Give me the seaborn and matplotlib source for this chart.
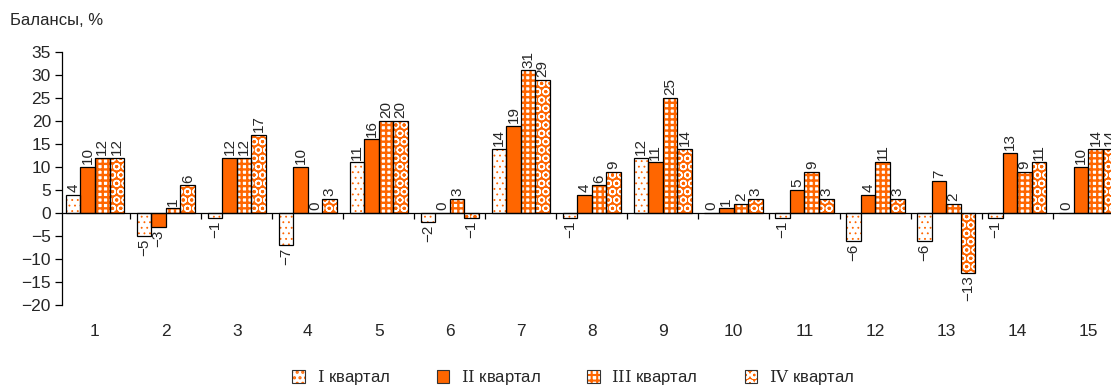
import matplotlib
matplotlib.use("Agg")
import matplotlib.pyplot as plt
from matplotlib.patches import Patch
from matplotlib.ticker import FixedLocator
from matplotlib.legend_handler import HandlerTuple
import seaborn as sns
import pandas as pd

# Regions 1..15, balance by quarter (%)
groups = [str(i) for i in range(1, 16)]
q1 = [4, -5, -1, -7, 11, -2, 14, -1, 12, 0, -1, -6, -6, -1, 0]
q2 = [10, -3, 12, 10, 16, 0, 19, 4, 11, 1, 5, 4, 7, 13, 10]
q3 = [12, 1, 12, 0, 20, 3, 31, 6, 25, 2, 9, 11, 2, 9, 14]
q4 = [12, 6, 17, 3, 20, -1, 29, 9, 14, 3, 3, 3, -13, 11, 14]
quarters = ["I квартал", "II квартал", "III квартал", "IV квартал"]
legend_labels = [r"$\mathrm{I}$ квартал", r"$\mathrm{II}$ квартал",
                 r"$\mathrm{III}$ квартал", r"$\mathrm{IV}$ квартал"]
y_ticks = [-20, -15, -10, -5, 0, 5, 10, 15, 20, 25, 30, 35]

ORANGE = "#FF6600"
# (face colour, hatch colour, hatch, hatch line width) for each quarter
styles = [
    ("white", ORANGE, "...", 0.6),
    (ORANGE, ORANGE, None, 1.0),
    ("white", ORANGE, "+++", 1.7),
    (ORANGE, "white", "OO", 1.0),
]

df = pd.DataFrame({
    "group": groups * 4,
    "quarter": sum([[q] * len(groups) for q in quarters], []),
    "value": q1 + q2 + q3 + q4,
})

sns.set_style("white")
plt.rcParams["font.family"] = ["Liberation Sans", "DejaVu Sans"]
plt.rcParams["mathtext.fontset"] = "dejavuserif"
plt.rcParams["hatch.linewidth"] = 1.5


def style_patch(p, fc, hc, hatch, hlw):
    p.set_facecolor(fc)
    p.set_edgecolor(hc)
    p.set_linewidth(0)
    if hatch:
        p.set_hatch(hatch)
        if hasattr(p, "set_hatch_linewidth"):
            p.set_hatch_linewidth(hlw)


fig = plt.figure(figsize=(11.11, 3.88), dpi=100)
ax = fig.add_axes([0.0558, 0.214, 0.9442, 0.652])

pal = {q: ORANGE for q in quarters}
common = dict(data=df, x="group", y="value", hue="quarter", hue_order=quarters,
              order=groups, palette=pal, width=0.82, errorbar=None,
              saturation=1, legend=False, ax=ax)
# filled, patterned layer
sns.barplot(**common)
# outline layer
sns.barplot(**common)

fill_conts = ax.containers[:4]
edge_conts = ax.containers[4:8]
for cont, st in zip(fill_conts, styles):
    for bar in cont:
        style_patch(bar, *st)
for cont in edge_conts:
    for bar in cont:
        bar.set_facecolor("none")
        bar.set_edgecolor("black")
        bar.set_linewidth(0.9)
        bar.set_zorder(3)
    labels = [f"{v:g}".replace("-", "\u2212") for v in cont.datavalues]
    ax.bar_label(cont, labels=labels, rotation=90, padding=2, fontsize=11)

ax.set_xlim(-0.465, 14.32)
ax.set_ylim(-20, 35)
ax.set_yticks(y_ticks)
ax.set_xlabel("")
ax.set_ylabel("")

for s in ("top", "right"):
    ax.spines[s].set_visible(False)
for s in ("bottom", "left"):
    ax.spines[s].set_linewidth(0.9)
    ax.spines[s].set_color("black")
ax.spines["bottom"].set_position(("data", 0))

ax.xaxis.set_minor_locator(FixedLocator([i + 0.5 for i in range(14)]))
ax.tick_params(axis="x", which="major", length=0, pad=80, labelsize=12.5)
ax.tick_params(axis="x", which="minor", bottom=True, direction="out",
               length=4, width=0.9, color="black")
ax.tick_params(axis="y", left=True, direction="out", length=5, width=0.9,
               color="black", labelsize=12.5, pad=3)

fig.text(0.009, 0.948, "Балансы, %", fontsize=12, va="center", ha="left")

handles = []
for fc, hc, hatch, hlw in styles:
    h_fill = Patch()
    style_patch(h_fill, fc, hc, hatch, hlw)
    h_edge = Patch(facecolor="none", edgecolor="#333333", linewidth=0.8)
    handles.append((h_fill, h_edge))
fig.legend(handles, legend_labels, loc="center", bbox_to_anchor=(0.516, 0.026),
           ncol=4, frameon=False, fontsize=12, handlelength=0.75,
           handleheight=0.75, handletextpad=0.7, columnspacing=2.8,
           handler_map={tuple: HandlerTuple(ndivide=1)})

fig.savefig("out.png", dpi=100)
